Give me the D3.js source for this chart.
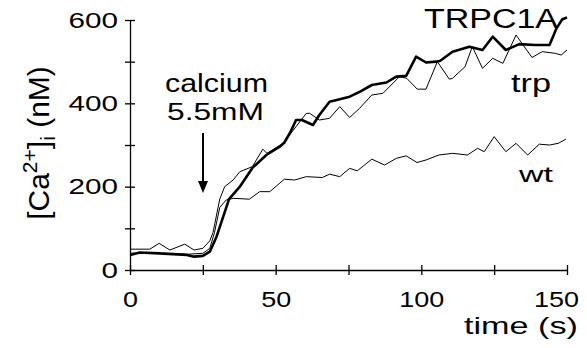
<!DOCTYPE html>
<html><head><meta charset="utf-8">
<script src="https://cdn.jsdelivr.net/npm/d3@7"></script>
<style>
body{margin:0;background:#fff;}
svg{display:block;font-family:"Liberation Sans",Arial,Helvetica,sans-serif;}
</style></head>
<body><svg id="c" width="587" height="348"></svg>
<script>
// ---- data (time in s, [Ca2+]i in nM) ----
const tTRPC1A = [0,3.4,10,19.5,22,25,27.4,29.7,32,34,37.7,42,46.8,51.4,53,55,57,59,62.8,65,68.5,72,75.4,79,83,88,91.4,94.8,98.2,101.6,105,106.5,110.7,116.5,121,124.5,129,133.6,139,144,146.4,148.4,150];
const cTRPC1A = [36,42,40,36,32,34,44,80,128,170,200,245,276,296,306,330,360,360,348,372,404,410,416,428,444,450,464,466,512,498,500,502,524,536,528,560,528,542,540,540,580,602,606];

const tTrp = [0,6.8,10,13.7,18.8,22,25,27.4,28.5,30.8,32.5,35.4,37.7,42,45.6,47,52.5,57,60.5,61.7,65,68.5,72,75.4,78.8,83,86.8,92.5,95,98.6,101.6,105.5,109.6,110.7,115,117.5,121,124.5,128,132.5,138,141.5,146,148,150];
const cTrp = [50,50,64,48,62,48,52,70,90,170,200,216,236,248,290,280,304,344,376,376,360,364,392,366,388,420,424,464,460,434,434,500,458,460,488,536,484,508,496,564,510,524,520,516,528];

const tWt = [0,5,10,15,20,25,27.4,29,30.8,33,35.4,41,44.5,48,53,56.5,60.5,66,68.5,72,75.4,78,83,87.4,91.4,94.8,98.5,101.6,106,110.7,115.8,119.3,121.6,125,129,132.5,136.5,140.5,144,147,149.6];
const cWt = [40,42,40,40,38,40,52,90,150,168,172,170,188,188,218,216,224,222,230,224,244,238,266,252,268,274,258,264,276,280,276,292,284,320,284,304,276,302,300,304,314];

const xTicks = [0,25,50,75,100,125,150];
const xLabels = [0,50,100,150];
const yTicks = [0,100,200,300,400,500,600];
const yLabels = [0,200,400,600];

// ---- drawing ----
const svg = d3.select("#c");
const x = d3.scaleLinear().domain([0,150]).range([130,567]);
const y = d3.scaleLinear().domain([0,600]).range([270,20]);
const FONT = 22;

// y axis
const gy = svg.append("g").attr("transform","translate(130,0)");
gy.call(d3.axisLeft(y).tickValues(yTicks).tickSizeInner(5).tickSizeOuter(0).tickPadding(7)
  .tickFormat(d => yLabels.includes(d) ? d : ""));
svg.append("g").attr("transform","translate(130,0)")
  .call(d3.axisRight(y).tickValues(yTicks).tickSize(5).tickFormat(""))
  .select(".domain").remove();
gy.selectAll("text").attr("font-size",FONT).attr("font-family",null).attr("fill","#000")
  .each(function(d){ const s=String(d); if(s.length) d3.select(this).attr("textLength", s.length*16.5).attr("lengthAdjust","spacingAndGlyphs"); });

// x axis
const gx = svg.append("g").attr("transform","translate(0,270)");
gx.call(d3.axisBottom(x).tickValues(xTicks).tickSizeInner(5).tickSizeOuter(0).tickPadding(16)
  .tickFormat(d => xLabels.includes(d) ? d : ""));
svg.append("g").attr("transform","translate(0,270)")
  .call(d3.axisTop(x).tickValues(xTicks).tickSize(5).tickFormat(""))
  .select(".domain").remove();
gx.selectAll("text").attr("font-size",FONT).attr("font-family",null).attr("fill","#000")
  .each(function(d){ const s=String(d); if(s.length) d3.select(this).attr("textLength", s.length*15).attr("lengthAdjust","spacingAndGlyphs"); })
  .filter(d => d===150).attr("dx",-11);
svg.selectAll(".domain").attr("stroke","#000").attr("stroke-width",1.3);
svg.selectAll(".tick line").attr("stroke","#000").attr("stroke-width",1.3);

// lines
const line = d3.line().x(d=>x(d[0])).y(d=>y(d[1]));
const series = [
  {t:tWt,v:cWt,w:1},
  {t:tTrp,v:cTrp,w:1},
  {t:tTRPC1A,v:cTRPC1A,w:2.6}
];
series.forEach(s=>{
  svg.append("path").datum(d3.zip(s.t,s.v)).attr("d",line)
    .attr("fill","none").attr("stroke","#000").attr("stroke-width",s.w)
    .attr("stroke-linejoin","round");
});

// labels
function txt(str,xp,yp,size,len,anchor){
  return svg.append("text").attr("x",xp).attr("y",yp).attr("font-size",size)
    .attr("text-anchor",anchor||"start").attr("textLength",len).attr("lengthAdjust","spacingAndGlyphs").text(str);
}
txt("TRPC1A",424,28,27,134);
txt("trp",511,92,25,40);
txt("wt",519,182,22,34);
txt("calcium",165,92,25,103);
txt("5.5mM",167,120,24,97);
txt("time (s)",464,334,24,114);

// arrow
svg.append("line").attr("x1",203).attr("x2",203).attr("y1",133).attr("y2",183).attr("stroke","#000").attr("stroke-width",2);
svg.append("path").attr("d","M198,181 L208,181 L203,193 Z").attr("fill","#000");

// y label
const yl = svg.append("text").attr("transform","translate(49,143) rotate(-90)")
  .attr("text-anchor","middle").attr("font-size",30);
yl.append("tspan").text("[Ca");
yl.append("tspan").attr("font-size",21).attr("dy",-12).text("2+");
yl.append("tspan").attr("dy",12).text("]");
yl.append("tspan").attr("font-size",21).attr("dy",6).text("i");
yl.append("tspan").attr("dy",-6).text(" (nM)");
</script></body></html>
